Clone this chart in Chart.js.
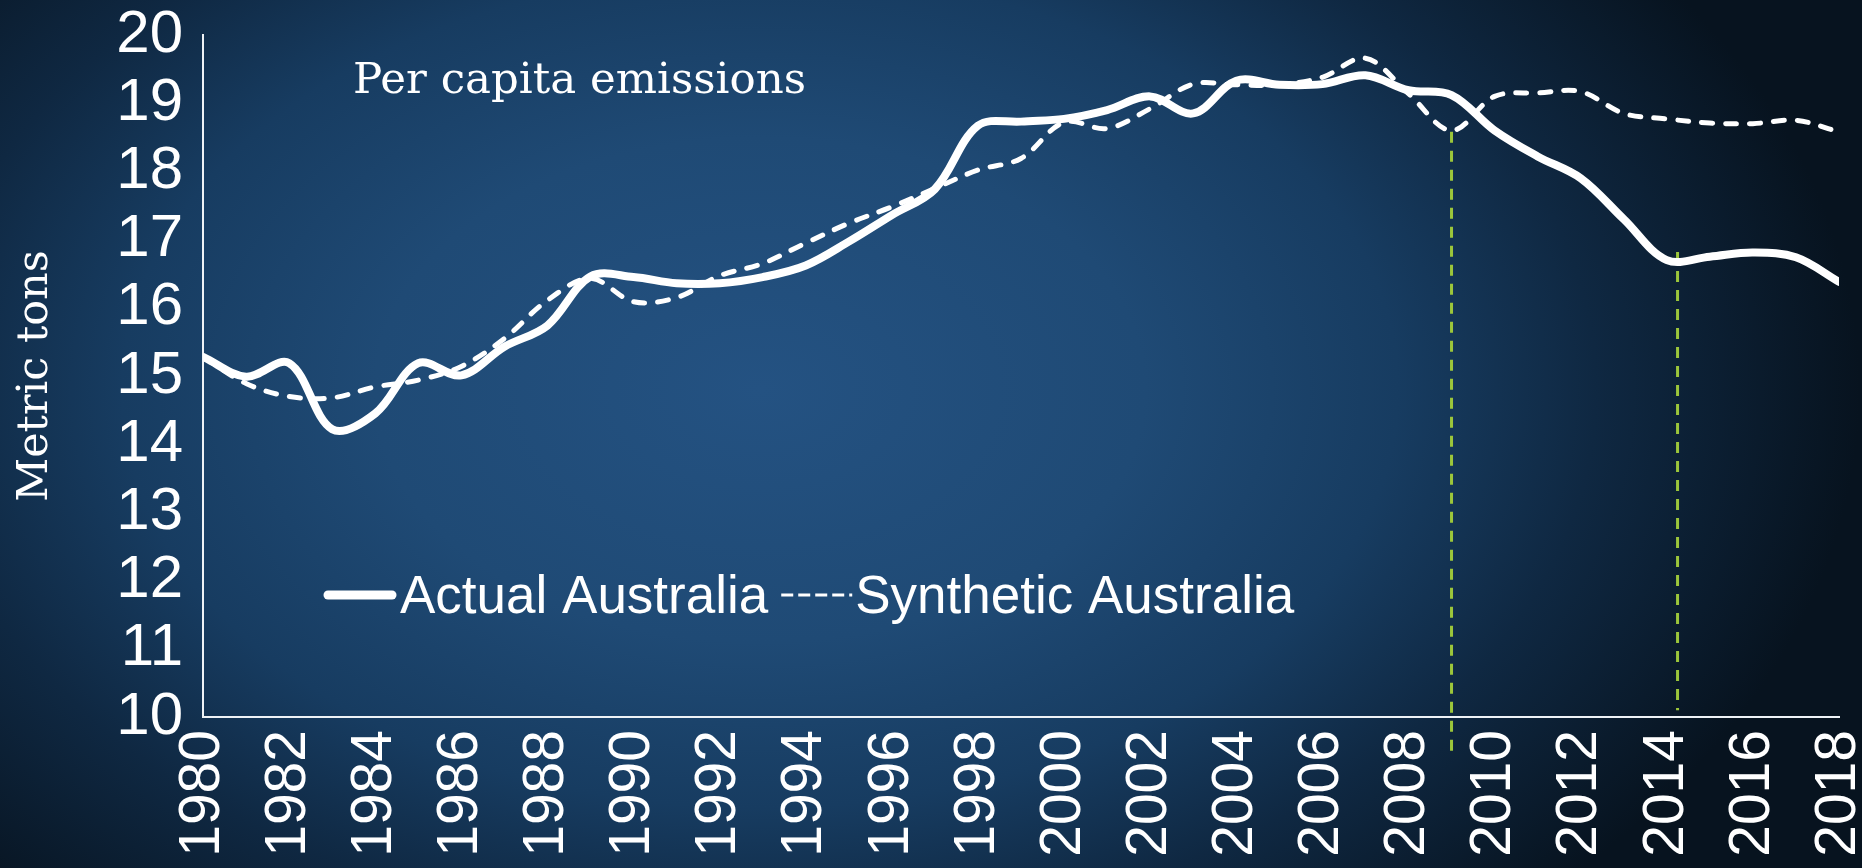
<!DOCTYPE html>
<html>
<head>
<meta charset="utf-8">
<script src="https://cdn.jsdelivr.net/npm/chart.js@4.4.0/dist/chart.umd.min.js"></script>
<style>
  html, body { margin: 0; padding: 0; width: 1862px; height: 868px; overflow: hidden; }
  body {
    background: radial-gradient(ellipse 1100px 720px at 760px 390px,
      #245282 0%, #1f4a75 35%, #173c61 58%, #0f2842 76%, #07131f 100%);
  }
  #wrap { position: relative; width: 1862px; height: 900px; }
  canvas { display: block; }
</style>
</head>
<body>
<div id="wrap"><canvas id="c" width="1862" height="900"></canvas></div>
<script>
// ---- data ----
const years = [1980,1981,1982,1983,1984,1985,1986,1987,1988,1989,
               1990,1991,1992,1993,1994,1995,1996,1997,1998,1999,
               2000,2001,2002,2003,2004,2005,2006,2007,2008,2009,
               2010,2011,2012,2013,2014,2015,2016,2017,2018];
const actualAustralia = [15.28,14.99,15.19,14.22,14.45,15.19,15.01,15.43,15.74,16.46,
                         16.45,16.36,16.36,16.45,16.62,16.97,17.36,17.74,18.67,18.73,
                         18.77,18.90,19.10,18.85,19.33,19.27,19.28,19.41,19.19,19.12,
                         18.60,18.22,17.90,17.30,16.70,16.75,16.81,16.74,16.38];
const syntheticAustralia = [15.28,14.89,14.70,14.68,14.84,14.94,15.14,15.55,16.11,16.43,
                            16.09,16.15,16.47,16.65,16.95,17.24,17.48,17.75,18.02,18.19,
                            18.72,18.63,18.92,19.28,19.27,19.27,19.38,19.66,19.14,18.60,
                            19.10,19.15,19.17,18.85,18.77,18.71,18.70,18.75,18.58];
const seriesLabels = ['Actual Australia', 'Synthetic Australia'];
const yTickValues = [10,11,12,13,14,15,16,17,18,19,20];
const xTickYears = [1980,1982,1984,1986,1988,1990,1992,1994,1996,1998,
                    2000,2002,2004,2006,2008,2010,2012,2014,2016,2018];
const markerYears = [2009, 2014.25];
const markerTop = [18.58, 16.82];
const markerBottom = [9.5, 10.1];
const chartTitle = 'Per capita emissions';
const yAxisTitle = 'Metric tons';

// ---- chart ----
const toPoints = arr => arr.map((v, i) => ({ x: years[i], y: v }));

const overlay = {
  id: 'overlay',
  beforeDatasetsDraw(chart) {
    const { ctx, scales: { x, y } } = chart;
    ctx.save();
    ctx.strokeStyle = '#9cc63b';
    ctx.lineWidth = 3;
    ctx.setLineDash([11, 8]);
    markerYears.forEach((yr, i) => {
      const px = x.getPixelForValue(yr);
      ctx.beginPath();
      ctx.moveTo(px, y.getPixelForValue(markerTop[i]));
      ctx.lineTo(px, y.getPixelForValue(markerBottom[i]));
      ctx.stroke();
    });
    ctx.restore();
  },
  afterDraw(chart) {
    const { ctx, chartArea } = chart;
    ctx.save();
    ctx.fillStyle = '#ffffff';
    // title inside plot
    ctx.font = '43.5px "DejaVu Serif"';
    ctx.textBaseline = 'alphabetic';
    ctx.textAlign = 'left';
    ctx.fillText(chartTitle, chartArea.left + 150, chartArea.top + 58);

    // legend inside plot
    const ds = chart.data.datasets;
    const baseY = chartArea.bottom - 104;
    const midY = chartArea.bottom - 122;
    ctx.font = '53px "Liberation Sans", Arial, sans-serif';
    // solid sample
    let lx = chartArea.left + 121;
    ctx.strokeStyle = '#ffffff';
    ctx.lineCap = 'round';
    ctx.lineWidth = 9;
    ctx.beginPath(); ctx.moveTo(lx + 4, midY); ctx.lineTo(lx + 68, midY); ctx.stroke();
    lx += 76;
    ctx.fillText(ds[0].label, lx, baseY);
    lx += ctx.measureText(ds[0].label).width + 13;
    // dashed sample
    ctx.lineCap = 'butt';
    ctx.lineWidth = 3;
    ctx.setLineDash([12, 5, 12, 5, 12, 5, 12, 5, 3, 40]);
    ctx.beginPath(); ctx.moveTo(lx, midY); ctx.lineTo(lx + 71, midY); ctx.stroke();
    ctx.setLineDash([]);
    lx += 74;
    ctx.fillText(ds[1].label, lx, baseY);
    ctx.restore();
  }
};

new Chart(document.getElementById('c'), {
  type: 'line',
  data: {
    datasets: [
      {
        label: seriesLabels[0],
        data: toPoints(actualAustralia),
        borderColor: '#ffffff',
        borderWidth: 8,
        pointRadius: 0,
        tension: 0.35,
        borderCapStyle: 'round',
        borderJoinStyle: 'round',
        fill: false
      },
      {
        label: seriesLabels[1],
        data: toPoints(syntheticAustralia),
        borderColor: '#ffffff',
        borderWidth: 5,
        borderDash: [11, 13],
        borderCapStyle: 'round',
        pointRadius: 0,
        tension: 0.35,
        fill: false
      }
    ]
  },
  options: {
    responsive: false,
    animation: false,
    layout: { padding: { top: 35, right: 23, left: 0, bottom: 0 } },
    plugins: {
      legend: { display: false },
      tooltip: { enabled: false },
      title: { display: false }
    },
    scales: {
      x: {
        type: 'linear',
        min: 1980,
        max: 2018,
        afterBuildTicks: s => { s.ticks = xTickYears.map(v => ({ value: v })); },
        afterFit: s => { s.height = 183; s.paddingLeft = 0; s.paddingRight = 0; },
        grid: { display: false, drawTicks: false, tickLength: 0 },
        border: { display: true, color: '#eef2f6', width: 2 },
        ticks: {
          autoSkip: false,
          maxRotation: 90,
          minRotation: 90,
          padding: 13,
          color: '#ffffff',
          font: { family: '"Liberation Sans", Arial, sans-serif', size: 57 },
          callback: v => String(v)
        }
      },
      y: {
        min: 10,
        max: 20,
        afterBuildTicks: s => { s.ticks = yTickValues.map(v => ({ value: v })); },
        afterFit: s => { s.width = 203; s.paddingTop = 0; s.paddingBottom = 0; },
        grid: { display: false, drawTicks: false, tickLength: 0 },
        border: { display: true, color: '#eef2f6', width: 2 },
        title: {
          display: true,
          text: yAxisTitle,
          color: '#ffffff',
          font: { family: '"DejaVu Serif"', size: 43 },
          padding: { top: 10, bottom: 0 }
        },
        ticks: {
          autoSkip: false,
          padding: 20,
          color: '#ffffff',
          font: { family: '"Liberation Sans", Arial, sans-serif', size: 60 },
          callback: v => String(v)
        }
      }
    }
  },
  plugins: [overlay]
});
</script>
</body>
</html>
